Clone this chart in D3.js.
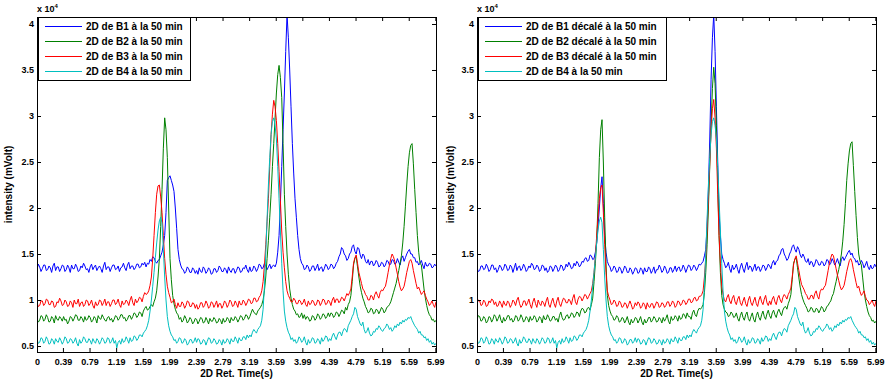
<!DOCTYPE html>
<html lang="fr">
<head>
    <meta charset="UTF-8">
    <title>Chromatogrammes 2D</title>
    <style>
        body { margin: 0; background: #fff; }
        svg { display: block; font-family: "Liberation Sans", Arial, sans-serif; }
        .axis text { font-size: 9px; font-weight: bold; fill: #000; }
        .lbl { font-size: 10px; font-weight: bold; fill: #000; }
        .axis line { stroke: #000; }
        .legend text { font-size: 10px; font-weight: bold; fill: #000; }
    </style>
</head>
<body>
    <div id="chart"></div>

    <script src="https://d3js.org/d3.v7.min.js"></script>
    <script>
        // sampling times (s)
        const times = [
            0,0.02,0.04,0.06,0.08,0.1,0.12,0.14,0.16,0.18,0.2,0.22,0.24,0.26,0.28,0.3,0.32,0.34,0.36,0.38,
            0.4,0.42,0.44,0.46,0.48,0.5,0.52,0.54,0.56,0.58,0.6,0.62,0.64,0.66,0.68,0.7,0.72,0.74,0.76,0.78,
            0.8,0.82,0.84,0.86,0.88,0.9,0.92,0.94,0.96,0.98,1,1.02,1.04,1.06,1.08,1.1,1.12,1.14,1.16,1.18,
            1.2,1.22,1.24,1.26,1.28,1.3,1.32,1.34,1.36,1.38,1.4,1.42,1.44,1.46,1.48,1.5,1.52,1.54,1.56,1.58,
            1.6,1.62,1.64,1.66,1.68,1.7,1.72,1.74,1.76,1.78,1.8,1.82,1.84,1.86,1.88,1.9,1.92,1.94,1.96,1.98,
            2,2.02,2.04,2.06,2.08,2.1,2.12,2.14,2.16,2.18,2.2,2.22,2.24,2.26,2.28,2.3,2.32,2.34,2.36,2.38,
            2.4,2.42,2.44,2.46,2.48,2.5,2.52,2.54,2.56,2.58,2.6,2.62,2.64,2.66,2.68,2.7,2.72,2.74,2.76,2.78,
            2.8,2.82,2.84,2.86,2.88,2.9,2.92,2.94,2.96,2.98,3,3.02,3.04,3.06,3.08,3.1,3.12,3.14,3.16,3.18,
            3.2,3.22,3.24,3.26,3.28,3.3,3.32,3.34,3.36,3.38,3.4,3.42,3.44,3.46,3.48,3.5,3.52,3.54,3.56,3.58,
            3.6,3.62,3.64,3.66,3.68,3.7,3.72,3.74,3.76,3.78,3.8,3.82,3.84,3.86,3.88,3.9,3.92,3.94,3.96,3.98,
            4,4.02,4.04,4.06,4.08,4.1,4.12,4.14,4.16,4.18,4.2,4.22,4.24,4.26,4.28,4.3,4.32,4.34,4.36,4.38,
            4.4,4.42,4.44,4.46,4.48,4.5,4.52,4.54,4.56,4.58,4.6,4.62,4.64,4.66,4.68,4.7,4.72,4.74,4.76,4.78,
            4.8,4.82,4.84,4.86,4.88,4.9,4.92,4.94,4.96,4.98,5,5.02,5.04,5.06,5.08,5.1,5.12,5.14,5.16,5.18,
            5.2,5.22,5.24,5.26,5.28,5.3,5.32,5.34,5.36,5.38,5.4,5.42,5.44,5.46,5.48,5.5,5.52,5.54,5.56,5.58,
            5.6,5.62,5.64,5.66,5.68,5.7,5.72,5.74,5.76,5.78,5.8,5.82,5.84,5.86,5.88,5.9,5.92,5.94,5.96,5.98,
            6
        ];

        const xTicks = [0, 0.39, 0.79, 1.19, 1.59, 1.99, 2.39, 2.79, 3.19, 3.59, 3.99, 4.39, 4.79, 5.19, 5.59, 5.99];
        const yTicks = [0.5, 1, 1.5, 2, 2.5, 3, 3.5, 4];

        // intensity in units of 10^4 mVolt
        const b1 = [
            1.33,1.39,1.36,1.31,1.34,1.38,1.38,1.32,1.33,1.37,1.35,1.30,1.37,1.40,1.32,1.36,1.36,1.31,1.34,1.38,
            1.37,1.31,1.33,1.38,1.35,1.30,1.38,1.34,1.34,1.39,1.36,1.31,1.32,1.37,1.35,1.40,1.37,1.33,1.34,1.30,
            1.36,1.39,1.33,1.36,1.38,1.32,1.35,1.37,1.34,1.30,1.37,1.41,1.33,1.36,1.36,1.31,1.35,1.38,1.38,1.33,
            1.34,1.37,1.31,1.35,1.36,1.40,1.35,1.32,1.38,1.41,1.34,1.37,1.37,1.33,1.35,1.39,1.39,1.35,1.36,1.40,
            1.38,1.41,1.36,1.40,1.39,1.44,1.42,1.47,1.46,1.42,1.40,1.43,1.44,1.48,1.52,1.60,1.70,1.95,2.30,2.33,
            2.35,2.30,2.25,2.18,2.00,1.78,1.55,1.44,1.38,1.34,1.33,1.29,1.31,1.36,1.34,1.30,1.30,1.35,1.33,1.29,
            1.32,1.28,1.35,1.31,1.30,1.36,1.34,1.29,1.31,1.35,1.33,1.28,1.29,1.34,1.34,1.30,1.32,1.37,1.35,1.31,
            1.31,1.35,1.33,1.29,1.36,1.32,1.30,1.34,1.34,1.29,1.32,1.36,1.35,1.30,1.31,1.35,1.34,1.38,1.33,1.30,
            1.36,1.31,1.32,1.37,1.35,1.31,1.34,1.39,1.38,1.34,1.35,1.40,1.37,1.33,1.36,1.39,1.34,1.37,1.38,1.36,
            1.40,1.52,1.70,2.05,2.45,2.85,3.25,3.70,4.10,3.85,3.50,3.10,2.70,2.38,2.10,1.90,1.70,1.55,1.45,1.40,
            1.38,1.33,1.34,1.38,1.36,1.31,1.33,1.37,1.37,1.32,1.35,1.39,1.32,1.35,1.36,1.31,1.34,1.39,1.37,1.33,
            1.35,1.39,1.38,1.34,1.36,1.40,1.42,1.47,1.50,1.57,1.55,1.50,1.48,1.43,1.45,1.50,1.52,1.58,1.60,1.53,
            1.50,1.57,1.56,1.49,1.45,1.50,1.48,1.42,1.40,1.44,1.38,1.42,1.42,1.37,1.39,1.43,1.41,1.36,1.37,1.41,
            1.40,1.36,1.38,1.43,1.42,1.38,1.39,1.44,1.43,1.39,1.40,1.45,1.41,1.38,1.45,1.48,1.42,1.46,1.50,1.53,
            1.55,1.50,1.50,1.46,1.46,1.41,1.42,1.38,1.40,1.43,1.38,1.34,1.41,1.37,1.37,1.40,1.39,1.35,1.36,1.39,
            1.37
        ];
        const b2 = [
            0.80,0.76,0.78,0.83,0.82,0.77,0.79,0.84,0.81,0.76,0.77,0.82,0.80,0.75,0.83,0.79,0.78,0.82,0.80,0.77,
            0.82,0.78,0.79,0.74,0.77,0.82,0.81,0.77,0.80,0.84,0.83,0.78,0.78,0.82,0.80,0.76,0.82,0.78,0.79,0.83,
            0.81,0.76,0.78,0.82,0.80,0.75,0.83,0.80,0.79,0.84,0.81,0.78,0.77,0.81,0.82,0.78,0.80,0.76,0.79,0.83,
            0.82,0.78,0.80,0.84,0.84,0.80,0.81,0.77,0.79,0.83,0.83,0.79,0.82,0.86,0.85,0.81,0.83,0.87,0.86,0.82,
            0.88,0.91,0.93,0.89,0.90,0.93,0.95,0.93,0.98,1.02,1.10,1.25,1.45,1.80,2.20,2.65,2.98,2.85,2.55,2.00,
            1.45,1.22,1.05,0.96,0.90,0.86,0.84,0.79,0.81,0.76,0.78,0.83,0.80,0.75,0.77,0.81,0.79,0.74,0.76,0.80,
            0.79,0.74,0.77,0.81,0.80,0.75,0.76,0.81,0.78,0.74,0.80,0.77,0.77,0.81,0.79,0.75,0.76,0.80,0.78,0.74,
            0.80,0.76,0.77,0.81,0.79,0.75,0.81,0.78,0.78,0.82,0.80,0.76,0.79,0.83,0.82,0.78,0.80,0.84,0.83,0.79,
            0.82,0.86,0.90,0.87,0.85,0.84,0.88,0.90,0.92,0.95,1.00,1.10,1.25,1.45,1.65,1.90,2.15,2.45,2.70,2.98,
            3.25,3.45,3.55,3.42,3.20,2.70,2.15,1.80,1.50,1.28,1.12,1.02,0.95,0.90,0.88,0.84,0.85,0.81,0.82,0.86,
            0.80,0.84,0.79,0.82,0.81,0.77,0.78,0.83,0.82,0.78,0.80,0.85,0.83,0.79,0.81,0.85,0.84,0.80,0.82,0.86,
            0.82,0.86,0.85,0.81,0.83,0.87,0.86,0.82,0.85,0.89,0.88,0.85,0.92,0.89,0.95,0.98,1.05,1.20,1.38,1.45,
            1.47,1.36,1.25,1.15,1.08,1.02,0.98,0.93,0.90,0.86,0.87,0.91,0.90,0.85,0.86,0.90,0.89,0.85,0.88,0.92,
            0.90,0.86,0.88,0.92,0.93,0.95,0.98,1.03,1.08,1.13,1.18,1.25,1.32,1.40,1.48,1.62,1.80,2.02,2.25,2.45,
            2.60,2.68,2.70,2.48,2.20,1.95,1.70,1.52,1.40,1.38,1.25,1.12,1.02,0.94,0.88,0.84,0.82,0.78,0.79,0.76,
            0.78
        ];
        const b3 = [
            0.97,0.93,0.94,0.99,0.99,0.94,0.96,1.01,1.00,0.95,0.95,0.99,0.98,0.92,0.93,0.98,0.97,1.02,0.99,0.94,
            0.95,1.00,0.98,0.93,0.94,0.99,0.97,0.92,1.00,0.96,0.96,1.01,0.93,0.97,0.98,0.93,0.95,1.00,0.99,0.94,
            0.96,1.00,0.94,0.91,0.98,0.94,0.95,1.00,0.99,0.94,0.97,1.01,0.94,0.98,0.98,0.93,0.96,1.00,1.00,0.95,
            0.97,1.01,0.95,0.92,0.99,0.95,0.96,1.00,0.98,0.94,1.00,1.04,0.97,0.94,1.01,0.97,0.99,1.03,1.02,0.98,
            1.04,1.08,1.06,1.07,1.10,1.16,1.25,1.45,1.70,1.95,2.15,2.24,2.25,2.12,1.95,1.70,1.45,1.28,1.15,1.08,
            1.03,0.97,0.98,1.01,0.95,0.91,0.97,0.93,0.93,0.98,0.96,0.91,0.94,0.99,0.98,0.93,0.93,0.97,0.96,0.91,
            0.95,0.90,0.92,0.97,0.97,0.92,0.94,0.99,0.96,0.91,0.93,0.98,0.97,0.92,0.95,0.99,0.92,0.96,0.96,0.91,
            0.94,0.99,0.97,0.92,0.95,1.00,0.98,0.93,0.94,0.99,0.96,0.92,0.99,0.95,0.95,1.00,0.98,0.94,0.97,1.01,
            1.00,0.96,0.97,1.02,1.02,0.98,0.99,1.03,1.05,1.10,1.20,1.38,1.60,1.85,2.10,2.45,2.80,3.02,3.17,3.10,
            2.95,2.70,2.40,2.08,1.75,1.52,1.35,1.20,1.10,1.05,1.02,0.98,0.98,1.02,1.00,0.96,0.96,1.00,0.99,0.95,
            0.97,1.01,0.95,0.93,0.99,0.95,0.96,1.00,0.98,0.94,0.95,1.00,0.99,0.94,0.97,1.01,1.00,0.95,0.96,1.00,
            0.98,0.94,1.00,1.03,0.97,1.01,1.01,0.97,0.99,1.03,1.02,0.99,1.03,1.07,1.05,1.08,1.12,1.25,1.40,1.46,
            1.49,1.40,1.30,1.24,1.18,1.12,1.10,1.06,1.04,1.00,1.00,1.05,1.04,1.00,1.06,1.09,1.05,1.02,1.08,1.11,
            1.10,1.13,1.15,1.22,1.30,1.38,1.45,1.50,1.47,1.42,1.35,1.28,1.20,1.14,1.10,1.12,1.15,1.22,1.30,1.36,
            1.42,1.44,1.40,1.32,1.25,1.18,1.12,1.14,1.10,1.06,1.08,1.10,1.05,1.01,0.98,0.94,0.96,0.99,0.95,0.92,
            0.98
        ];
        const b4 = [
            0.57,0.53,0.54,0.59,0.58,0.53,0.55,0.60,0.57,0.52,0.53,0.58,0.56,0.52,0.58,0.55,0.54,0.59,0.56,0.52,
            0.55,0.60,0.58,0.53,0.54,0.58,0.57,0.53,0.55,0.59,0.53,0.50,0.57,0.53,0.55,0.60,0.58,0.54,0.54,0.58,
            0.56,0.52,0.58,0.55,0.53,0.58,0.56,0.52,0.55,0.59,0.57,0.53,0.54,0.59,0.58,0.53,0.55,0.59,0.53,0.56,
            0.48,0.54,0.56,0.52,0.58,0.54,0.55,0.60,0.57,0.53,0.59,0.55,0.56,0.61,0.60,0.56,0.58,0.62,0.62,0.60,
            0.64,0.66,0.68,0.72,0.78,0.88,1.00,1.15,1.30,1.46,1.62,1.76,1.86,1.90,1.84,1.55,1.25,1.00,0.82,0.72,
            0.66,0.62,0.60,0.56,0.57,0.53,0.55,0.59,0.58,0.53,0.54,0.58,0.56,0.51,0.53,0.57,0.57,0.53,0.55,0.59,
            0.54,0.58,0.57,0.52,0.53,0.57,0.56,0.51,0.55,0.59,0.58,0.53,0.54,0.58,0.56,0.52,0.53,0.57,0.55,0.51,
            0.57,0.53,0.54,0.58,0.56,0.52,0.58,0.55,0.55,0.60,0.57,0.53,0.59,0.56,0.56,0.60,0.60,0.57,0.62,0.59,
            0.62,0.60,0.65,0.68,0.66,0.64,0.68,0.70,0.72,0.78,0.90,1.15,1.50,1.88,2.25,2.55,2.80,2.94,2.98,2.90,
            2.75,2.45,2.10,1.75,1.40,1.10,0.88,0.77,0.70,0.65,0.62,0.57,0.59,0.55,0.57,0.53,0.55,0.60,0.58,0.54,
            0.56,0.60,0.54,0.51,0.57,0.53,0.55,0.59,0.58,0.53,0.54,0.58,0.56,0.52,0.59,0.55,0.57,0.61,0.60,0.55,
            0.58,0.56,0.61,0.64,0.60,0.57,0.62,0.65,0.65,0.61,0.66,0.69,0.68,0.65,0.72,0.75,0.78,0.82,0.85,0.92,
            0.90,0.82,0.78,0.74,0.72,0.76,0.68,0.64,0.66,0.70,0.64,0.61,0.62,0.66,0.65,0.69,0.68,0.72,0.70,0.67,
            0.66,0.69,0.70,0.74,0.72,0.68,0.70,0.66,0.68,0.72,0.70,0.74,0.72,0.76,0.74,0.78,0.76,0.79,0.78,0.81,
            0.80,0.82,0.78,0.75,0.72,0.70,0.68,0.64,0.66,0.62,0.62,0.59,0.60,0.56,0.58,0.54,0.56,0.52,0.54,0.51,
            0.53
        ];

        // shifted (décalé) series
        const b1s = [
            1.35,1.31,1.32,1.37,1.37,1.33,1.34,1.39,1.36,1.31,1.33,1.38,1.38,1.33,1.35,1.30,1.33,1.38,1.36,1.32,
            1.34,1.39,1.37,1.32,1.33,1.38,1.36,1.30,1.35,1.40,1.32,1.36,1.37,1.32,1.34,1.39,1.36,1.31,1.33,1.37,
            1.35,1.40,1.38,1.33,1.34,1.38,1.36,1.31,1.33,1.38,1.37,1.32,1.35,1.30,1.32,1.37,1.36,1.31,1.34,1.38,
            1.36,1.31,1.33,1.38,1.37,1.32,1.34,1.39,1.36,1.41,1.38,1.34,1.35,1.40,1.37,1.42,1.40,1.36,1.38,1.42,
            1.41,1.45,1.46,1.42,1.43,1.49,1.48,1.44,1.45,1.52,1.62,1.80,2.00,2.22,2.34,2.05,1.70,1.52,1.42,1.38,
            1.36,1.31,1.33,1.37,1.35,1.30,1.31,1.36,1.34,1.29,1.32,1.37,1.35,1.30,1.30,1.35,1.33,1.28,1.31,1.35,
            1.34,1.29,1.30,1.35,1.33,1.28,1.35,1.31,1.31,1.36,1.34,1.29,1.32,1.36,1.29,1.33,1.33,1.38,1.35,1.30,
            1.32,1.37,1.34,1.29,1.30,1.35,1.35,1.30,1.33,1.37,1.31,1.35,1.36,1.31,1.33,1.38,1.35,1.30,1.34,1.38,
            1.37,1.32,1.34,1.38,1.36,1.32,1.35,1.39,1.38,1.40,1.42,1.48,1.55,1.80,2.20,2.75,3.40,3.85,4.10,3.70,
            3.10,2.50,1.95,1.70,1.50,1.44,1.40,1.35,1.37,1.41,1.34,1.30,1.38,1.33,1.35,1.39,1.33,1.29,1.36,1.40,
            1.34,1.30,1.37,1.41,1.33,1.37,1.36,1.31,1.35,1.39,1.32,1.36,1.36,1.31,1.34,1.38,1.37,1.32,1.35,1.39,
            1.37,1.34,1.40,1.43,1.38,1.42,1.43,1.48,1.50,1.55,1.56,1.50,1.47,1.43,1.45,1.50,1.53,1.58,1.60,1.55,
            1.52,1.58,1.55,1.49,1.46,1.50,1.47,1.42,1.41,1.45,1.38,1.42,1.41,1.36,1.39,1.44,1.42,1.38,1.38,1.42,
            1.41,1.37,1.39,1.44,1.43,1.38,1.40,1.45,1.42,1.38,1.41,1.45,1.40,1.37,1.44,1.47,1.43,1.46,1.49,1.52,
            1.54,1.49,1.51,1.46,1.45,1.41,1.43,1.38,1.39,1.43,1.40,1.35,1.38,1.42,1.36,1.33,1.38,1.34,1.35,1.39,
            1.36
        ];
        const b2s = [
            0.79,0.83,0.82,0.77,0.78,0.82,0.80,0.75,0.77,0.82,0.81,0.76,0.79,0.84,0.82,0.77,0.80,0.84,0.78,0.75,
            0.81,0.77,0.79,0.83,0.83,0.78,0.80,0.76,0.78,0.83,0.82,0.77,0.79,0.84,0.81,0.76,0.78,0.82,0.80,0.76,
            0.82,0.78,0.79,0.83,0.81,0.76,0.78,0.82,0.80,0.75,0.83,0.79,0.79,0.84,0.81,0.77,0.78,0.82,0.82,0.78,
            0.80,0.76,0.83,0.87,0.81,0.78,0.79,0.83,0.84,0.80,0.82,0.86,0.85,0.81,0.83,0.87,0.86,0.82,0.88,0.91,
            0.90,0.86,0.87,0.91,0.92,0.89,0.95,1.02,1.20,1.40,1.65,2.05,2.55,2.85,2.96,2.50,1.90,1.40,1.05,0.94,
            0.88,0.84,0.82,0.78,0.79,0.83,0.81,0.76,0.77,0.81,0.80,0.75,0.78,0.82,0.76,0.73,0.79,0.75,0.77,0.81,
            0.80,0.75,0.78,0.82,0.76,0.73,0.79,0.75,0.77,0.81,0.81,0.76,0.78,0.82,0.80,0.76,0.77,0.81,0.79,0.75,
            0.81,0.77,0.80,0.84,0.77,0.74,0.82,0.78,0.79,0.83,0.81,0.77,0.83,0.79,0.80,0.85,0.84,0.80,0.86,0.82,
            0.82,0.79,0.86,0.89,0.84,0.82,0.88,0.91,0.90,0.92,0.95,1.08,1.30,1.60,2.00,2.45,2.90,3.30,3.53,3.35,
            2.90,2.30,1.70,1.30,1.05,0.95,0.90,0.87,0.86,0.82,0.83,0.87,0.85,0.81,0.82,0.86,0.80,0.77,0.83,0.87,
            0.81,0.78,0.84,0.87,0.80,0.77,0.82,0.86,0.79,0.76,0.83,0.87,0.81,0.78,0.84,0.88,0.82,0.79,0.85,0.89,
            0.83,0.80,0.86,0.89,0.84,0.81,0.87,0.90,0.86,0.83,0.89,0.92,0.93,0.90,0.96,1.00,1.06,1.22,1.40,1.44,
            1.46,1.35,1.24,1.14,1.06,1.01,0.97,0.94,0.91,0.87,0.88,0.92,0.91,0.87,0.87,0.91,0.90,0.86,0.89,0.93,
            0.91,0.87,0.89,0.93,0.94,0.97,0.99,1.04,1.07,1.14,1.20,1.27,1.33,1.41,1.50,1.64,1.82,2.05,2.30,2.48,
            2.62,2.70,2.72,2.46,2.18,1.92,1.68,1.50,1.42,1.38,1.24,1.10,1.00,0.93,0.87,0.83,0.81,0.77,0.78,0.75,
            0.77
        ];
        const b3s = [
            0.96,1.00,0.99,0.94,0.95,1.00,0.98,0.93,0.94,0.99,0.97,1.01,1.00,0.95,0.98,0.93,0.94,0.99,0.96,0.92,
            0.99,0.95,0.94,0.99,0.97,0.92,0.95,1.00,0.98,0.94,1.00,1.03,0.96,0.92,0.94,0.99,0.99,0.94,0.97,1.01,
            0.95,0.91,0.98,1.02,0.96,0.92,1.00,0.96,0.94,0.99,0.97,0.93,0.99,1.03,0.95,0.92,0.98,1.02,0.96,0.92,
            0.99,1.03,0.96,0.93,0.98,1.02,1.01,0.97,0.97,1.01,0.99,0.95,1.02,1.06,0.98,0.95,1.01,1.04,1.03,0.99,
            1.02,1.06,1.05,1.01,1.04,1.07,1.10,1.18,1.30,1.48,1.70,1.90,2.10,2.22,2.25,1.95,1.60,1.30,1.10,1.04,
            1.00,0.95,0.96,1.00,0.98,0.93,0.94,0.99,0.97,0.92,0.93,0.97,0.96,0.91,0.95,0.99,0.95,0.90,0.92,0.97,
            0.94,0.98,0.96,0.91,0.93,0.97,0.95,0.90,0.97,0.93,0.92,0.96,0.96,0.91,0.94,0.98,0.97,0.92,0.93,0.97,
            0.96,0.92,0.94,0.98,0.98,0.93,0.95,0.99,0.97,0.92,0.94,0.99,0.98,0.94,0.96,1.00,0.99,0.95,0.97,1.01,
            1.01,0.97,0.98,1.02,1.03,0.99,1.00,1.04,1.04,1.06,1.10,1.25,1.45,1.75,2.10,2.48,2.85,3.08,3.18,2.98,
            2.65,2.15,1.70,1.40,1.15,1.06,1.00,0.98,1.03,1.06,0.99,0.96,1.02,1.05,0.98,0.95,1.01,1.04,0.97,0.94,
            0.99,1.03,0.96,0.93,1.00,1.04,0.97,0.94,0.99,1.03,0.96,0.93,1.00,1.04,0.98,0.95,1.01,1.05,0.97,0.94,
            0.99,0.95,1.01,1.04,0.98,0.95,1.02,1.05,1.00,0.97,1.03,1.06,1.04,1.01,1.06,1.09,1.13,1.25,1.38,1.45,
            1.48,1.40,1.32,1.24,1.17,1.14,1.11,1.07,1.05,1.01,1.01,1.05,1.05,1.01,1.07,1.10,1.04,1.01,1.09,1.12,
            1.11,1.14,1.16,1.24,1.32,1.40,1.46,1.50,1.48,1.41,1.34,1.27,1.21,1.15,1.11,1.13,1.16,1.23,1.31,1.37,
            1.43,1.45,1.41,1.33,1.26,1.19,1.13,1.15,1.09,1.05,1.07,1.10,1.04,1.00,0.99,0.95,0.97,1.00,0.96,0.93,
            0.99
        ];

        const leftNames = ['2D de B1 à la 50 min', '2D de B2 à la 50 min', '2D de B3 à la 50 min', '2D de B4 à la 50 min'];
        const rightNames = ['2D de B1 décalé à la 50 min', '2D de B2 décalé à la 50 min', '2D de B3 décalé à la 50 min', '2D de B4 à la 50 min'];
        const colors = ['#0000ff', '#008000', '#ff0000', '#00bfbf'];

        const W = 888, H = 382, TOP = 17, BOTTOM = 352;

        const panels = [
            { x0: 37, x1: 436, series: [b1, b2, b3, b4], names: leftNames, legendW: 152, ylab: 8 },
            { x0: 477, x1: 876, series: [b1s, b2s, b3s, b4], names: rightNames, legendW: 188, ylab: 450 }
        ];

        const svg = d3.select('#chart')
            .append('svg')
            .attr('width', W)
            .attr('height', H);

        const y = d3.scaleLinear().domain([0.435, 4.076]).range([BOTTOM, TOP]);

        panels.forEach((p, k) => {
            const x = d3.scaleLinear().domain([0, 6]).range([p.x0, p.x1]);
            const g = svg.append('g');

            svg.append('clipPath').attr('id', 'clip' + k)
                .append('rect')
                .attr('x', p.x0).attr('y', TOP)
                .attr('width', p.x1 - p.x0).attr('height', BOTTOM - TOP);

            // data lines
            const line = d3.line()
                .x((d, i) => x(times[i]))
                .y(d => y(d));

            g.append('g')
                .attr('clip-path', `url(#clip${k})`)
                .selectAll('path')
                .data(p.series)
                .join('path')
                .attr('d', line)
                .attr('fill', 'none')
                .attr('stroke', (d, i) => colors[i])
                .attr('stroke-width', 1);

            // axes, ticks pointing inward
            g.append('g').attr('class', 'axis')
                .attr('transform', `translate(0,${BOTTOM})`)
                .call(d3.axisBottom(x).tickValues(xTicks)
                    .tickFormat(d => d === 0 ? '0' : d.toFixed(2))
                    .tickSize(-4).tickPadding(7))
                .call(a => a.select('.domain').remove());

            g.append('g').attr('class', 'axis')
                .attr('transform', `translate(0,${TOP})`)
                .call(d3.axisTop(x).tickValues(xTicks).tickFormat('').tickSize(-4))
                .call(a => a.select('.domain').remove());

            g.append('g').attr('class', 'axis')
                .attr('transform', `translate(${p.x0},0)`)
                .call(d3.axisLeft(y).tickValues(yTicks)
                    .tickFormat(d3.format('')).tickSize(-4).tickPadding(3))
                .call(a => a.select('.domain').remove());

            g.append('g').attr('class', 'axis')
                .attr('transform', `translate(${p.x1},0)`)
                .call(d3.axisRight(y).tickValues(yTicks).tickFormat('').tickSize(-4))
                .call(a => a.select('.domain').remove());

            // box
            g.append('rect')
                .attr('x', p.x0 + 0.5).attr('y', TOP + 0.5)
                .attr('width', p.x1 - p.x0).attr('height', BOTTOM - TOP)
                .attr('fill', 'none').attr('stroke', '#000');

            // exponent
            const ex = g.append('text').attr('class', 'lbl')
                .attr('x', p.x0).attr('y', 12)
                .style('font-size', '9px');
            ex.append('tspan').text('x 10');
            ex.append('tspan').attr('dy', -4).style('font-size', '6px').text('4');

            // axis titles
            g.append('text').attr('class', 'lbl')
                .attr('text-anchor', 'middle')
                .attr('x', (p.x0 + p.x1) / 2).attr('y', 377)
                .text('2D Ret. Time(s)');

            g.append('text').attr('class', 'lbl')
                .attr('text-anchor', 'middle')
                .attr('transform', `translate(${p.ylab},${(TOP + BOTTOM) / 2}) rotate(-90)`)
                .attr('dy', '0.35em')
                .text('intensity (mVolt)');

            // legend
            const lg = g.append('g').attr('class', 'legend');
            lg.append('rect')
                .attr('x', p.x0 + 1.5).attr('y', TOP + 0.5)
                .attr('width', p.legendW).attr('height', 63)
                .attr('fill', '#fff').attr('stroke', '#000');

            p.names.forEach((name, i) => {
                const ly = 26 + i * 15;
                lg.append('line')
                    .attr('x1', p.x0 + 8).attr('x2', p.x0 + 45)
                    .attr('y1', ly + 0.5).attr('y2', ly + 0.5)
                    .attr('stroke', colors[i]);
                lg.append('text')
                    .attr('x', p.x0 + 49).attr('y', ly)
                    .attr('dy', '0.35em')
                    .text(name);
            });
        });
    </script>
</body>
</html>
